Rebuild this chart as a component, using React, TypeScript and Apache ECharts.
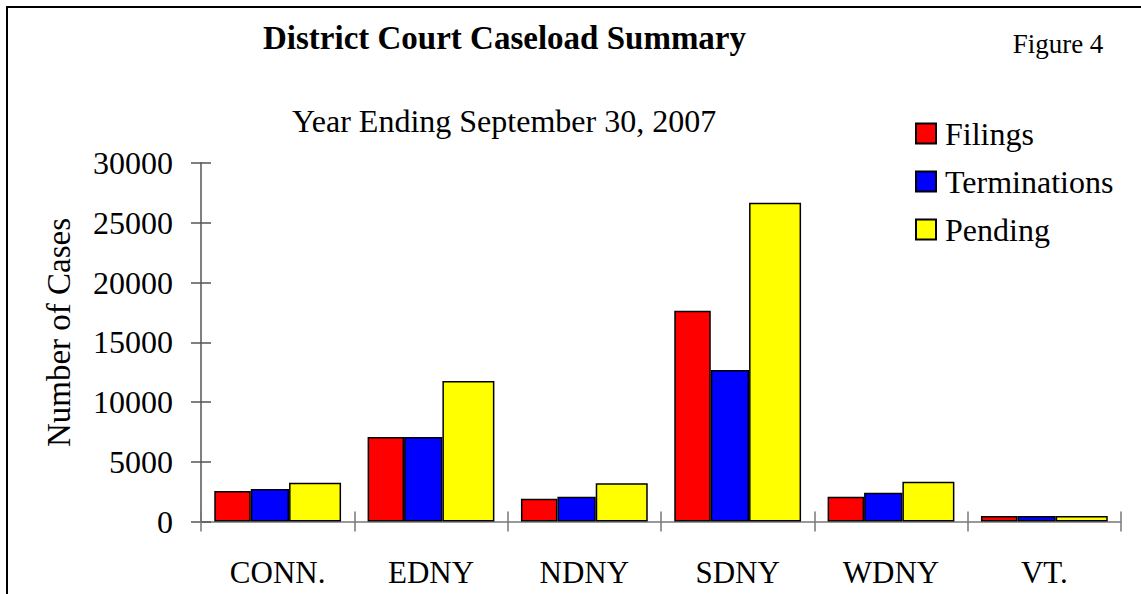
import React, { useEffect, useRef } from "react";
import * as echarts from "echarts";

const categories = ["CONN.", "EDNY", "NDNY", "SDNY", "WDNY", "VT."];
const filings = [2550, 7070, 1910, 17640, 2075, 460];
const terminations = [2720, 7070, 2075, 12680, 2410, 460];
const pending = [3250, 11760, 3200, 26680, 3330, 470];
const seriesNames = ["Filings", "Terminations", "Pending"];
const seriesColors = ["#FF0000", "#0000FF", "#FFFF00"];

const FONT = "Liberation Serif";

export default function App() {
  const ref = useRef<HTMLDivElement>(null);
  useEffect(() => {
    if (!ref.current) return;
    const chart = echarts.init(ref.current, null, { renderer: "svg" });
    const yCommon = {
      type: "value" as const,
      min: 0,
      max: 30000,
      interval: 5000,
      position: "left" as const,
      splitLine: { show: false },
    };
    const xCommon = {
      type: "category" as const,
      data: categories,
      position: "bottom" as const,
    };
    const barWidths = [36.5, 38.3, 52];
    const option = {
      animation: false,
      backgroundColor: "#ffffff",
      textStyle: { fontFamily: FONT },
      grid: { left: 201, top: 163, width: 920, height: 358.5, containLabel: false },
      legend: {
        data: seriesNames,
        orient: "vertical",
        left: 915,
        top: 117.5,
        padding: 0,
        itemWidth: 20,
        itemHeight: 20,
        itemGap: 16,
        icon: "rect",
        selectedMode: false,
        textStyle: { fontSize: 32, color: "#000", fontFamily: FONT, padding: [0, 0, 0, 4] },
      },
      xAxis: [
        {
          ...xCommon,
          axisLine: { show: true, lineStyle: { color: "#777", width: 1.5 } },
          axisTick: { show: true, inside: false, length: 10, lineStyle: { color: "#777", width: 1.5 } },
          axisLabel: { show: true, margin: 35, fontSize: 31, color: "#000", fontFamily: FONT },
        },
        {
          ...xCommon,
          axisLine: { show: false },
          axisTick: { show: true, inside: true, length: 10, lineStyle: { color: "#777", width: 1.5 } },
          axisLabel: { show: false },
        },
      ],
      yAxis: [
        {
          ...yCommon,
          axisLine: { show: true, lineStyle: { color: "#555", width: 1.5 } },
          axisTick: { show: true, inside: false, length: 10, lineStyle: { color: "#555", width: 1.5 } },
          axisLabel: {
            show: true,
            margin: 28,
            fontSize: 32,
            color: "#000",
            fontFamily: FONT,
            formatter: (v: number) => String(v),
          },
        },
        {
          ...yCommon,
          axisLine: { show: false },
          axisTick: { show: true, inside: true, length: 10, lineStyle: { color: "#555", width: 1.5 } },
          axisLabel: { show: false },
        },
      ],
      series: [filings, terminations, pending].map((d, i) => ({
        name: seriesNames[i],
        type: "bar",
        data: d,
        xAxisIndex: 0,
        yAxisIndex: 0,
        barWidth: barWidths[i],
        barGap: "0%",
        itemStyle: { color: seriesColors[i], borderColor: "#000", borderWidth: 1.5 },
      })),
      graphic: [
        {
          type: "text",
          x: 504.5,
          y: 38,
          style: {
            text: "District Court Caseload Summary",
            font: `bold 33px ${FONT}`,
            fill: "#000",
            textAlign: "center",
            textVerticalAlign: "middle",
          },
        },
        {
          type: "text",
          x: 1058,
          y: 44.2,
          style: {
            text: "Figure 4",
            font: `27px ${FONT}`,
            fill: "#000",
            textAlign: "center",
            textVerticalAlign: "middle",
          },
        },
        {
          type: "text",
          x: 504,
          y: 121,
          style: {
            text: "Year Ending September 30, 2007",
            font: `32px ${FONT}`,
            fill: "#000",
            textAlign: "center",
            textVerticalAlign: "middle",
          },
        },
        {
          type: "text",
          x: 59,
          y: 332.5,
          rotation: Math.PI / 2,
          style: {
            text: "Number of Cases",
            font: `33px ${FONT}`,
            fill: "#000",
            textAlign: "center",
            textVerticalAlign: "middle",
          },
        },
        {
          type: "line",
          shape: { x1: 7, y1: 7, x2: 1141, y2: 7 },
          style: { stroke: "#000", lineWidth: 2 },
        },
        {
          type: "line",
          shape: { x1: 7, y1: 6, x2: 7, y2: 594 },
          style: { stroke: "#000", lineWidth: 2 },
        },
      ],
    };
    chart.setOption(option as any);
    return () => chart.dispose();
  }, []);
  return (
    <div
      ref={ref}
      style={{ position: "fixed", left: 0, top: 0, width: 1141, height: 594, background: "#fff" }}
    />
  );
}
